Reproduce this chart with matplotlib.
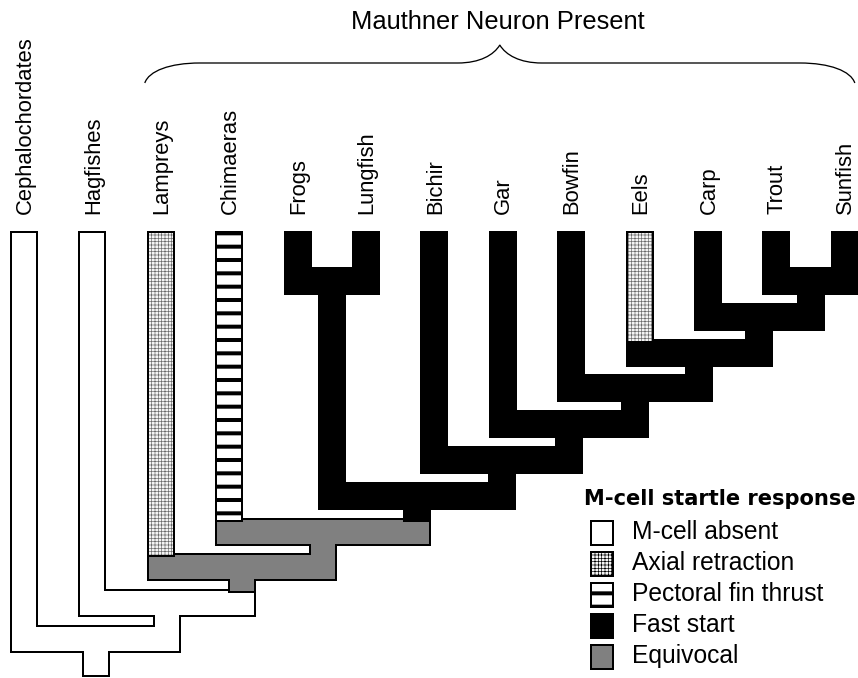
import numpy as np
import matplotlib
matplotlib.use("Agg")
import matplotlib.pyplot as plt
from matplotlib.patches import Rectangle, PathPatch
from matplotlib.path import Path

# ---------------- data ----------------
taxa = ["Cephalochordates", "Hagfishes", "Lampreys", "Chimaeras", "Frogs", "Lungfish",
        "Bichir", "Gar", "Bowfin", "Eels", "Carp", "Trout", "Sunfish"]
tip_states = ["absent", "absent", "axial", "pectoral", "fast", "fast",
              "fast", "fast", "fast", "axial", "fast", "fast", "fast"]

# internal nodes: (left child, right child, state)
node_names = ["Trout+Sunfish", "Carp+", "Eels+", "Bowfin+", "Gar+", "Bichir+",
              "Frogs+Lungfish", "Osteichthyes", "Gnathostomes", "Vertebrates",
              "Craniates", "Chordates"]
node_left = ["Trout", "Carp", "Eels", "Bowfin", "Gar", "Bichir", "Frogs",
             "Frogs+Lungfish", "Chimaeras", "Lampreys", "Hagfishes", "Cephalochordates"]
node_right = ["Sunfish", "Trout+Sunfish", "Carp+", "Eels+", "Bowfin+", "Gar+", "Lungfish",
              "Bichir+", "Osteichthyes", "Gnathostomes", "Vertebrates", "Craniates"]
node_states = ["fast", "fast", "fast", "fast", "fast", "fast", "fast", "fast",
               "equivocal", "equivocal", "absent", "absent"]

brace_label = "Mauthner Neuron Present"
brace_from, brace_to = "Lampreys", "Sunfish"

legend_title = "M-cell startle response"
legend_states = ["absent", "axial", "pectoral", "fast", "equivocal"]
legend_labels = ["M-cell absent", "Axial retraction", "Pectoral fin thrust",
                 "Fast start", "Equivocal"]

# ---------------- style / layout ----------------
W, H, DPI = 858, 678, 80
PT = 72.0 / DPI  # points per pixel
styles = {
    "absent":    dict(fc="white", hatch=None, hc="black", hlw=0.5),
    "axial":     dict(fc="#f4f4f4", hatch="++++", hc="#6a6a6a", hlw=0.6),
    "pectoral":  dict(fc="white", hatch="-", hc="black", hlw=3.6),
    "fast":      dict(fc="black", hatch=None, hc="black", hlw=0.5),
    "equivocal": dict(fc="#808080", hatch=None, hc="black", hlw=0.5),
}
group_order = ["absent", "equivocal", "fast", "pectoral", "axial"]

x0, dx = 24.0, 68.4
bw = 24.0
tip_top = 233.0
lvl0, lvl_step = 269.0, 35.8
EDGE = 2.2 * PT

fig = plt.figure(figsize=(W / DPI, H / DPI), dpi=DPI)
ax = fig.add_axes([0, 0, 1, 1])
ax.set_xlim(0, W)
ax.set_ylim(H, 0)
ax.axis("off")

# ---------------- tree geometry ----------------
center, height, state = {}, {}, {}
for i, (t, s) in enumerate(zip(taxa, tip_states)):
    center[t] = x0 + i * dx
    height[t] = -1
    state[t] = s
for n, l, r, s in zip(node_names, node_left, node_right, node_states):
    center[n] = (center[l] + center[r]) / 2
    height[n] = max(height[l], height[r]) + 1
    state[n] = s

def bar_top(n):
    return lvl0 + height[n] * lvl_step

def stem_start(n):
    return tip_top if height[n] < 0 else bar_top(n) + bw

rects = []  # (state, x, y, w, h)
for n, l, r in zip(node_names, node_left, node_right):
    yt = bar_top(n)
    rects.append((state[n], center[l] - bw / 2, yt, center[r] - center[l] + bw, bw))
    for c in (l, r):
        y1 = stem_start(c)
        rects.append((state[c], center[c] - bw / 2, y1, bw, yt - y1))
root = node_names[-1]
rects.append((state[root], center[root] - bw / 2, stem_start(root), bw, bw))

def snap(v):
    return float(np.round(v))

z = 2
for g in group_order:
    grp = [r for r in rects if r[0] == g]
    st = styles[g]
    for _, x, y, w, h in grp:
        x1, y1, x2, y2 = snap(x), snap(y), snap(x + w), snap(y + h)
        ax.add_patch(Rectangle((x1, y1), x2 - x1, y2 - y1, fc="black", ec="black",
                               lw=EDGE, antialiased=False, zorder=z))
    for _, x, y, w, h in grp:
        x1, y1, x2, y2 = snap(x), snap(y), snap(x + w), snap(y + h)
        with plt.rc_context({"hatch.linewidth": st["hlw"]}):
            p = Rectangle((x1, y1), x2 - x1, y2 - y1, fc=st["fc"], ec=st["hc"],
                          lw=0, hatch=st["hatch"], antialiased=False, zorder=z + 1)
        ax.add_patch(p)
    z += 2

# ---------------- tip labels ----------------
for t in taxa:
    ax.text(center[t] + 1, 214, t, rotation=90, ha="center", va="bottom",
            fontsize=22 * PT, family="Liberation Sans", color="black", zorder=20)

# ---------------- brace ----------------
xl = center[brace_from] - bw / 2 - 4
xr = center[brace_to] + bw / 2 - 2
xm = (xl + xr) / 2
yb = 63.0
verts = [(xl, yb + 20),
         (xl + 4, yb + 8), (xl + 25, yb), (xl + 55, yb),
         (xm - 42, yb),
         (xm - 20, yb), (xm - 6, yb - 8), (xm, yb - 18),
         (xm + 6, yb - 8), (xm + 20, yb), (xm + 42, yb),
         (xr - 55, yb),
         (xr - 25, yb), (xr - 4, yb + 8), (xr, yb + 20)]
codes = [Path.MOVETO,
         Path.CURVE4, Path.CURVE4, Path.CURVE4,
         Path.LINETO,
         Path.CURVE4, Path.CURVE4, Path.CURVE4,
         Path.CURVE4, Path.CURVE4, Path.CURVE4,
         Path.LINETO,
         Path.CURVE4, Path.CURVE4, Path.CURVE4]
ax.add_patch(PathPatch(Path(verts, codes), fill=False, ec="black", lw=1.3 * PT, zorder=20))
ax.text(xm - 2, 29, brace_label, ha="center", va="baseline", fontsize=25.5 * PT,
        family="Liberation Sans", color="black", zorder=20)

# ---------------- legend ----------------
ax.text(584, 505, legend_title, ha="left", va="baseline", fontsize=21 * PT,
        family="DejaVu Sans", fontweight="bold", color="black", zorder=20)
for i, (s, lab) in enumerate(zip(legend_states, legend_labels)):
    st = styles[s]
    yc = 533 + 31 * i
    with plt.rc_context({"hatch.linewidth": st["hlw"]}):
        p = Rectangle((591, yc - 12), 22, 24, fc=st["fc"], ec="black", lw=1.5 * PT,
                      hatch=st["hatch"], antialiased=False, zorder=20)
    ax.add_patch(p)
    ax.text(632, yc + 6, lab, ha="left", va="baseline", fontsize=24.6 * PT,
            family="Liberation Sans", color="black", zorder=20)

fig.savefig("out.png", dpi=DPI)
